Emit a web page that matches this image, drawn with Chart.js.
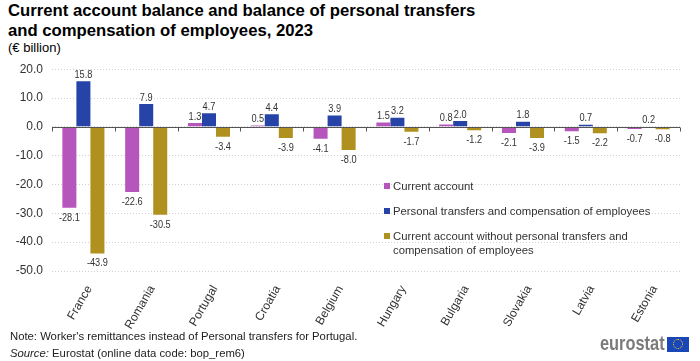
<!DOCTYPE html>
<html>
<head>
<meta charset="utf-8">
<script src="https://cdn.jsdelivr.net/npm/chart.js@4"></script>
<style>
  body { margin: 0; width: 700px; height: 361px; background: #fff; font-family: "Liberation Sans", Arial, sans-serif; color: #000; position: relative; overflow: hidden; }
  #title { position: absolute; left: 8px; top: 1px; font-weight: bold; font-size: 16.7px; line-height: 20px; color: #000; }
  #unit { position: absolute; left: 8px; top: 40px; font-size: 13px; color: #000; }
  #wrap { position: absolute; left: 0; top: 53px; width: 700px; height: 279px; }
  #legend { position: absolute; left: 384px; top: 179px; font-size: 11.3px; color: #333; line-height: 14px; }
  #legend div { position: relative; padding-left: 9px; margin-bottom: 11px; }
  #legend span { position: absolute; left: 0; top: 4px; width: 6px; height: 6px; }
  #note { position: absolute; left: 10px; top: 328px; font-size: 11.3px; color: #222; line-height: 17px; }
  #logo { position: absolute; left: 600px; top: 331px; font-size: 21px; font-weight: bold; color: #7b7b7b; transform: scaleX(0.78); transform-origin: 0 0; }
  #flag { position: absolute; left: 667px; top: 337px; width: 22px; height: 15px; background: #1a47b8; }
  #flag i { position: absolute; left: 6px; top: 2px; width: 8px; height: 8px; border: 1px dotted #ffd617; border-radius: 50%; }
</style>
</head>
<body>
<div id="title">Current account balance and balance of personal transfers<br>and compensation of employees, 2023</div>
<div id="unit">(€ billion)</div>
<div id="wrap"><canvas id="myChart"></canvas></div>
<div id="legend">
  <div><span style="background:#B656BD"></span>Current account</div>
  <div><span style="background:#2644A7"></span>Personal transfers and compensation of employees</div>
  <div><span style="background:#B09120"></span>Current account without personal transfers and<br>compensation of employees</div>
</div>
<div id="note">Note: Worker's remittances instead of Personal transfers for Portugal.<br><i>Source:</i> Eurostat (online data code: bop_rem6)</div>
<div id="logo">eurostat</div>
<div id="flag"><i></i></div>
<script>
const countries = ['France', 'Romania', 'Portugal', 'Croatia', 'Belgium', 'Hungary', 'Bulgaria', 'Slovakia', 'Latvia', 'Estonia'];
const currentAccount = [-28.1, -22.6, 1.3, 0.5, -4.1, 1.5, 0.8, -2.1, -1.5, -0.7];
const personalTransfers = [15.8, 7.9, 4.7, 4.4, 3.9, 3.2, 2.0, 1.8, 0.7, 0.2];
const withoutTransfers = [-43.9, -30.5, -3.4, -3.9, -8.0, -1.7, -1.2, -3.9, -2.2, -0.8];
const yTicks = [20, 10, 0, -10, -20, -30, -40, -50];

// value labels above / below each bar (narrow, like the original)
const barLabels = {
  id: 'barLabels',
  afterDatasetsDraw(chart) {
    const ctx = chart.ctx;
    chart.data.datasets.forEach((ds, i) => {
      chart.getDatasetMeta(i).data.forEach((bar, j) => {
        const v = ds.data[j];
        ctx.save();
        ctx.font = '11.5px "Liberation Sans", Arial, sans-serif';
        ctx.fillStyle = '#333';
        ctx.textAlign = 'center';
        if (v >= 0) {
          ctx.textBaseline = 'bottom';
          ctx.translate(bar.x, bar.y - 1);
        } else {
          ctx.textBaseline = 'top';
          ctx.translate(bar.x, bar.y + 4);
        }
        ctx.scale(0.8, 1);
        ctx.fillText(v.toFixed(1), 0, 0);
        ctx.restore();
      });
    });
  }
};

// zero line with small tick marks between categories
const zeroLine = {
  id: 'zeroLine',
  afterDatasetsDraw(chart) {
    const ctx = chart.ctx;
    const y0 = Math.round(chart.scales.y.getPixelForValue(0)) + 0.5;
    const area = chart.chartArea;
    ctx.save();
    ctx.strokeStyle = '#555';
    ctx.lineWidth = 1;
    ctx.beginPath();
    ctx.moveTo(area.left, y0);
    ctx.lineTo(area.right, y0);
    const step = (area.right - area.left) / countries.length;
    for (let i = 0; i <= countries.length; i++) {
      const px = Math.round(area.left + i * step) + 0.5;
      ctx.moveTo(px, y0);
      ctx.lineTo(px, y0 + 4);
    }
    ctx.stroke();
    ctx.restore();
  }
};

let myChart = document.getElementById('myChart').getContext('2d');
let chart = new Chart(myChart, {
  type: 'bar',
  data: {
    labels: countries,
    datasets: [{
      label: 'Current account',
      data: currentAccount,
      backgroundColor: '#B656BD'
    }, {
      label: 'Personal transfers and compensation of employees',
      data: personalTransfers,
      backgroundColor: '#2644A7'
    }, {
      label: 'Current account without personal transfers and compensation of employees',
      data: withoutTransfers,
      backgroundColor: '#B09120'
    }]
  },
  options: {
    responsive: true,
    maintainAspectRatio: false,
    animation: false,
    layout: { padding: { top: 1, right: 20, left: 0, bottom: 0 } },
    datasets: { bar: { barPercentage: 1.0, categoryPercentage: 0.67 } },
    plugins: {
      legend: { display: false },
      tooltip: { enabled: false }
    },
    scales: {
      x: {
        grid: { display: false },
        border: { display: false },
        ticks: {
          color: '#333',
          font: { size: 12, family: '"Liberation Sans", Arial, sans-serif' },
          minRotation: 60,
          maxRotation: 60,
          autoSkip: false,
          labelOffset: 6,
          padding: 4
        },
        afterFit: (s) => { s.height = 61; }
      },
      y: {
        min: -50,
        max: 20,
        afterBuildTicks: (s) => { s.ticks = yTicks.map(v => ({ value: v })); },
        grid: { color: '#d0d0d0', drawTicks: false },
        border: { display: false, dash: [1, 2] },
        ticks: {
          color: '#333',
          padding: 9,
          font: { size: 12, family: '"Liberation Sans", Arial, sans-serif' },
          callback: (v) => v.toFixed(1)
        },
        afterFit: (s) => { s.width = 52; }
      }
    }
  },
  plugins: [barLabels, zeroLine]
});
</script>
</body>
</html>
